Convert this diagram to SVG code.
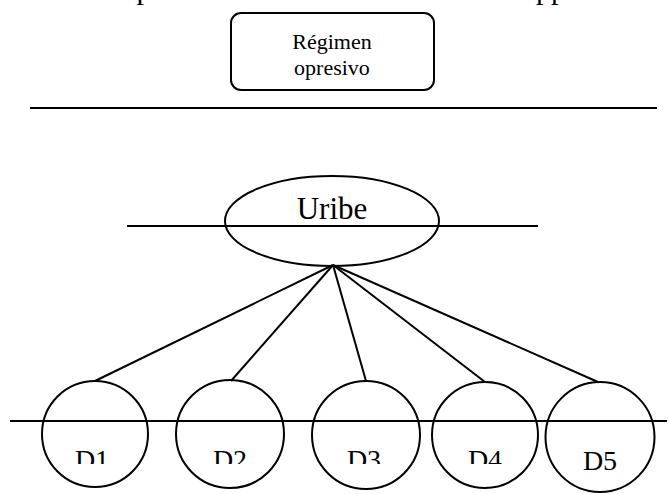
<svg xmlns="http://www.w3.org/2000/svg" width="669" height="494" viewBox="0 0 669 494">
  <style>
    .ln { stroke: #000; stroke-width: 2; fill: none; }
    .shape { stroke: #000; stroke-width: 2; fill: none; }
    .t { font-family: "Liberation Serif", "Times New Roman", serif; fill: #000; text-anchor: middle; }
  </style>
  <defs>
    <clipPath id="cut-labels">
      <rect x="0" y="380" width="669" height="84"/>
    </clipPath>
  </defs>
  <rect width="669" height="494" fill="#fff"/>

  <!-- descenders of a heading line above the visible area -->
  <g id="heading-tail">
    <text class="t" x="144" y="-1" font-size="30">p</text>
    <text class="t" x="551" y="-1" font-size="30">pp</text>
  </g>

  <!-- separator lines -->
  <g id="rules">
    <line class="ln" x1="30" y1="108" x2="657" y2="108"/>
    <line class="ln" x1="127" y1="226" x2="538" y2="226"/>
    <line class="ln" x1="10" y1="421" x2="667" y2="421"/>
  </g>

  <g id="regimen">
    <rect class="shape" x="231" y="13" width="203" height="77" rx="10" ry="10"/>
    <text class="t" x="332" y="49" font-size="22">Régimen</text>
    <text class="t" x="332" y="75" font-size="22">opresivo</text>
  </g>

  <g id="uribe">
    <ellipse class="shape" cx="332" cy="221" rx="107" ry="45"/>
    <text class="t" x="332" y="219" font-size="31">Uribe</text>
  </g>

  <!-- connectors from Uribe to each node -->
  <g id="connectors">
    <line class="ln" x1="333" y1="265" x2="95" y2="381"/>
    <line class="ln" x1="333" y1="265" x2="231" y2="381"/>
    <line class="ln" x1="333" y1="265" x2="366" y2="381"/>
    <line class="ln" x1="333" y1="265" x2="485" y2="382"/>
    <line class="ln" x1="333" y1="265" x2="598" y2="382"/>
  </g>

  <g id="d1">
    <circle class="shape" cx="95" cy="434" r="53"/>
    <text class="t" x="92" y="469" font-size="28" clip-path="url(#cut-labels)">D1</text>
  </g>
  <g id="d2">
    <circle class="shape" cx="230" cy="434" r="54"/>
    <text class="t" x="230" y="469" font-size="28" clip-path="url(#cut-labels)">D2</text>
  </g>
  <g id="d3">
    <circle class="shape" cx="366" cy="435" r="54"/>
    <text class="t" x="364" y="469" font-size="28" clip-path="url(#cut-labels)">D3</text>
  </g>
  <g id="d4">
    <circle class="shape" cx="485" cy="435" r="53"/>
    <text class="t" x="485" y="469" font-size="28" clip-path="url(#cut-labels)">D4</text>
  </g>
  <g id="d5">
    <ellipse class="shape" cx="600" cy="437" rx="54.5" ry="55"/>
    <text class="t" x="600" y="470" font-size="28">D5</text>
  </g>
</svg>
